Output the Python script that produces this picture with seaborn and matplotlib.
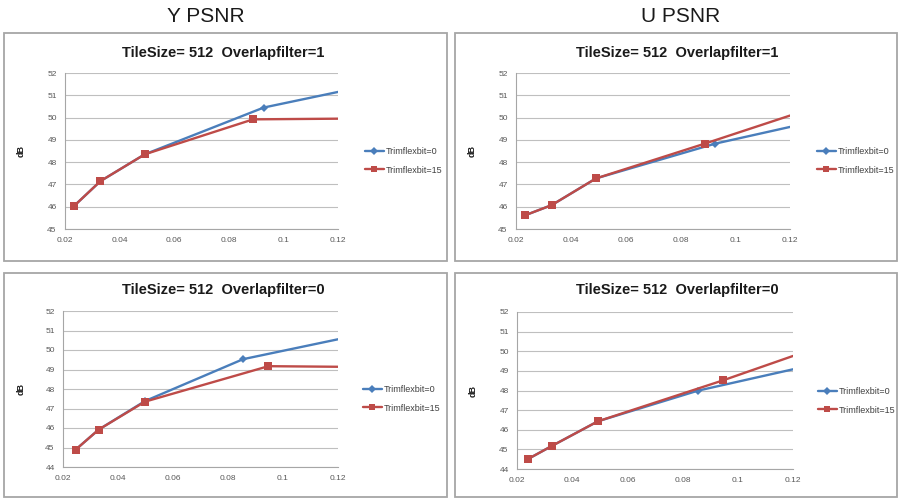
import matplotlib
matplotlib.use("Agg")
import matplotlib.pyplot as plt
from matplotlib.patches import Rectangle
from matplotlib.lines import Line2D
import seaborn as sns

# ---- data: bitrate (bpp) vs PSNR (dB) ----
series_labels = ["Trimflexbit=0", "Trimflexbit=15"]
column_titles = ["Y PSNR", "U PSNR"]
panel_titles = ["TileSize= 512  Overlapfilter=1", "TileSize= 512  Overlapfilter=0"]

# Y PSNR, Overlapfilter=1
y_of1_t0_bpp = [0.0232, 0.0330, 0.0492, 0.0928, 0.12]
y_of1_t0_db = [46.02, 47.15, 48.35, 50.45, 51.15]
y_of1_t15_bpp = [0.0232, 0.0330, 0.0492, 0.0889, 0.12]
y_of1_t15_db = [46.02, 47.15, 48.35, 49.92, 49.95]

# U PSNR, Overlapfilter=1
u_of1_t0_bpp = [0.0232, 0.0330, 0.0492, 0.0927, 0.12]
u_of1_t0_db = [45.61, 46.07, 47.27, 48.83, 49.58]
u_of1_t15_bpp = [0.0232, 0.0330, 0.0492, 0.0889, 0.12]
u_of1_t15_db = [45.61, 46.07, 47.27, 48.83, 50.09]

# Y PSNR, Overlapfilter=0
y_of0_t0_bpp = [0.0246, 0.0330, 0.0498, 0.0855, 0.12]
y_of0_t0_db = [44.89, 45.92, 47.38, 49.53, 50.55]
y_of0_t15_bpp = [0.0246, 0.0330, 0.0498, 0.0947, 0.12]
y_of0_t15_db = [44.89, 45.92, 47.35, 49.17, 49.14]

# U PSNR, Overlapfilter=0
u_of0_t0_bpp = [0.0240, 0.0327, 0.0493, 0.0855, 0.12]
u_of0_t0_db = [44.51, 45.18, 46.43, 47.99, 49.08]
u_of0_t15_bpp = [0.0240, 0.0327, 0.0493, 0.0945, 0.12]
u_of0_t15_db = [44.51, 45.18, 46.43, 48.51, 49.76]

x_ticks = [0.02, 0.04, 0.06, 0.08, 0.10, 0.12]
x_tick_labels = ["0.02", "0.04", "0.06", "0.08", "0.1", "0.12"]
y_ticks_top = [45, 46, 47, 48, 49, 50, 51, 52]
y_ticks_bottom = [44, 45, 46, 47, 48, 49, 50, 51, 52]

BLUE = "#4A7EBB"
RED = "#BE4B48"
GRID = "#BFBFBF"
TICKC = "#595959"

sns.set_theme(style="white")
plt.rcParams["font.family"] = ["Liberation Sans", "DejaVu Sans"]

W, H = 900, 503
fig = plt.figure(figsize=(9.0, 5.03), dpi=100)


def fx(px):
    return px / W


def fy(py):
    return 1 - py / H


def rect(l, t, r, b):
    return [fx(l), fy(b), fx(r) - fx(l), fy(t) - fy(b)]


# panel frames (pixel boxes: left, top, right, bottom)
frames = [(4, 33, 447, 261), (455, 33, 897, 261), (4, 273, 447, 497), (455, 273, 897, 497)]
for l, t, r, b in frames:
    fig.patches.append(Rectangle((fx(l), fy(b)), fx(r) - fx(l), fy(t) - fy(b),
                                 transform=fig.transFigure, fill=False,
                                 edgecolor="#A6A6A6", lw=1.3))

# column headers
fig.text(fx(206), fy(16), column_titles[0], ha="center", va="center",
         fontsize=15, color="#1a1a1a")
fig.text(fx(681), fy(16), column_titles[1], ha="center", va="center",
         fontsize=15, color="#1a1a1a")

panels = [
    dict(box=(65, 73, 338, 229), title=panel_titles[0], tpos=(223, 53),
         s0=(y_of1_t0_bpp, y_of1_t0_db), s1=(y_of1_t15_bpp, y_of1_t15_db),
         yt=y_ticks_top, leg=(360, 161), ylab=(21, 151)),
    dict(box=(516, 73, 790, 229), title=panel_titles[0], tpos=(677, 53),
         s0=(u_of1_t0_bpp, u_of1_t0_db), s1=(u_of1_t15_bpp, u_of1_t15_db),
         yt=y_ticks_top, leg=(812, 161), ylab=(472, 151)),
    dict(box=(63, 311, 338, 467), title=panel_titles[1], tpos=(223, 290),
         s0=(y_of0_t0_bpp, y_of0_t0_db), s1=(y_of0_t15_bpp, y_of0_t15_db),
         yt=y_ticks_bottom, leg=(358, 399), ylab=(21, 389)),
    dict(box=(517, 312, 793, 469), title=panel_titles[1], tpos=(677, 290),
         s0=(u_of0_t0_bpp, u_of0_t0_db), s1=(u_of0_t15_bpp, u_of0_t15_db),
         yt=y_ticks_bottom, leg=(813, 401), ylab=(473, 391)),
]

for p in panels:
    ax = fig.add_axes(rect(*p["box"]))
    # the last point sits on the axis edge and carries no marker
    sns.lineplot(x=p["s0"][0], y=p["s0"][1], ax=ax, color=BLUE, lw=1.7,
                 marker="D", markersize=4, markevery=[0, 1, 2, 3],
                 markeredgewidth=0, sort=False, estimator=None, zorder=3)
    sns.lineplot(x=p["s1"][0], y=p["s1"][1], ax=ax, color=RED, lw=1.7,
                 marker="s", markersize=6, markevery=[0, 1, 2, 3],
                 markeredgewidth=0, sort=False, estimator=None, zorder=4)
    yt = p["yt"]
    ax.set_xlim(0.02, 0.12)
    ax.set_ylim(yt[0], yt[-1])
    ax.set_xticks(x_ticks)
    ax.set_xticklabels(x_tick_labels)
    ax.set_yticks(yt)
    ax.set_yticklabels([str(v) for v in yt])
    ax.tick_params(axis="both", labelsize=6, colors=TICKC, length=0, pad=6)
    ax.yaxis.grid(True, color=GRID, lw=0.8)
    ax.xaxis.grid(False)
    ax.set_axisbelow(True)
    for s in ["top", "right"]:
        ax.spines[s].set_visible(False)
    for s in ["left", "bottom"]:
        ax.spines[s].set_color("#A6A6A6")
        ax.spines[s].set_linewidth(0.8)
    ax.set_xlabel("")
    ax.set_ylabel("")
    fig.text(fx(p["tpos"][0]), fy(p["tpos"][1]), p["title"], ha="center",
             va="center", fontsize=10.5, fontweight="bold", color="#1a1a1a")
    fig.text(fx(p["ylab"][0]), fy(p["ylab"][1]), "dB", rotation=90, ha="center",
             va="center", fontsize=6.5, fontweight="bold", color="#1a1a1a")
    handles = [
        Line2D([], [], color=BLUE, lw=1.7, marker="D", markersize=4, markeredgewidth=0),
        Line2D([], [], color=RED, lw=1.7, marker="s", markersize=5, markeredgewidth=0),
    ]
    fig.legend(handles, series_labels, loc="center left",
               bbox_to_anchor=(fx(p["leg"][0]), fy(p["leg"][1])),
               frameon=False, fontsize=6.5, handlelength=2.2, handletextpad=0.1,
               labelspacing=1.0, borderpad=0, labelcolor="#404040")

fig.savefig("out.png", dpi=100, facecolor="white")
